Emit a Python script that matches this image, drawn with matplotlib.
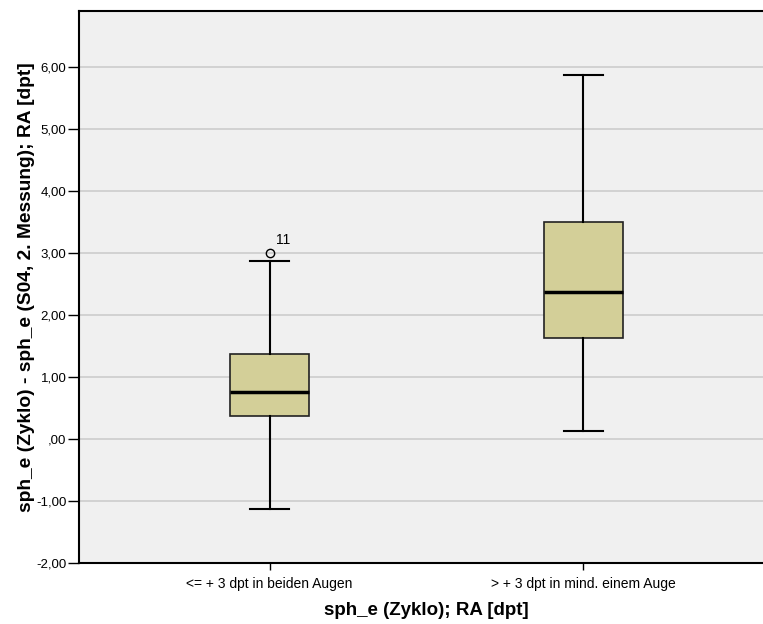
import matplotlib.pyplot as plt
from matplotlib.ticker import FuncFormatter

plt.rcParams['font.family'] = ['Liberation Sans', 'DejaVu Sans']

groups = ['<= + 3 dpt in beiden Augen', '> + 3 dpt in mind. einem Auge']
whisker_low = [-1.125, 0.125]
q1 = [0.375, 1.625]
median = [0.75, 2.375]
q3 = [1.375, 3.5]
whisker_high = [2.875, 5.875]
outliers = [[3.0], []]
outlier_ids = [['11'], []]

stats = []
for i in range(len(groups)):
    stats.append(dict(whislo=whisker_low[i], q1=q1[i], med=median[i], q3=q3[i],
                      whishi=whisker_high[i], fliers=outliers[i]))


def comma_fmt(v, p):
    s = '%.2f' % v
    if s in ('0.00', '-0.00'):
        s = '.00'
    return s.replace('.', ',')


fig = plt.figure(figsize=(7.63, 6.24), dpi=100)
ax = fig.add_axes([79/763, 61/624, 695/763, 552/624])
ax.set_facecolor('#f0f0f0')

pos = [1, 2]
ax.bxp(stats, positions=pos, widths=0.25, patch_artist=True,
       boxprops=dict(facecolor='#d3cf98', edgecolor='#222222', linewidth=1.2),
       medianprops=dict(color='black', linewidth=2.5),
       whiskerprops=dict(color='black', linewidth=1.5),
       capprops=dict(color='black', linewidth=1.5),
       capwidths=0.125,
       flierprops=dict(marker='o', markerfacecolor='none', markeredgecolor='black',
                       markersize=6, markeredgewidth=1.0),
       zorder=3)

# case numbers next to outliers
for i in range(len(groups)):
    for v, lab in zip(outliers[i], outlier_ids[i]):
        ax.annotate(lab, (pos[i], v), xytext=(5, 9), textcoords='offset points',
                    ha='left', va='center', fontsize=10)

ax.set_xlim(0.393, 2.607)
ax.set_ylim(-2, 6.9)
ax.set_yticks(range(-2, 7))
ax.yaxis.set_major_formatter(FuncFormatter(comma_fmt))
ax.grid(axis='y', color='#cccccc', linewidth=1.2, zorder=0)
ax.set_axisbelow(True)

ax.set_xticks(pos)
ax.set_xticklabels(groups, fontsize=10)
ax.tick_params(axis='y', labelsize=9.5, length=8, width=1, pad=1)
ax.tick_params(axis='x', length=5, width=1, pad=5)

for s in ax.spines.values():
    s.set_linewidth(1.5)
    s.set_color('black')

ax.set_xlabel('sph_e (Zyklo); RA [dpt]', fontsize=13.5, fontweight='bold', labelpad=8)
ax.set_ylabel('sph_e (Zyklo) - sph_e (S04, 2. Messung); RA [dpt]', fontsize=13.8,
              fontweight='bold', labelpad=1)

fig.savefig('out.png', dpi=100)
